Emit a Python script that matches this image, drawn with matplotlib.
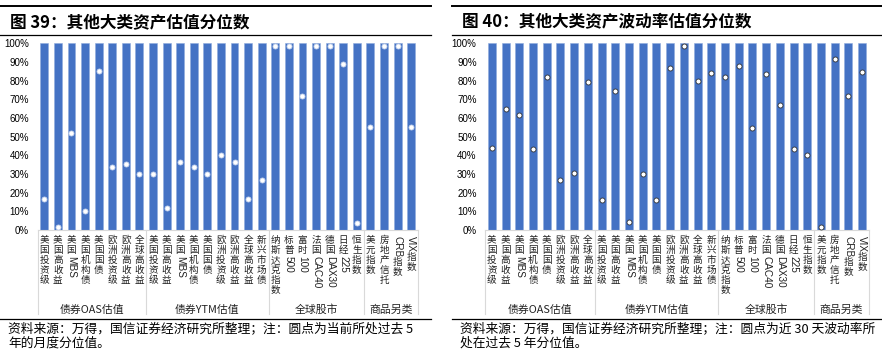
import re
import numpy as np
import matplotlib
matplotlib.use("Agg")
import matplotlib.pyplot as plt
from matplotlib.lines import Line2D
from matplotlib.transforms import offset_copy
from matplotlib.ticker import PercentFormatter

plt.rcParams['font.family'] = ['Noto Sans CJK SC', 'DejaVu Sans']

# ---- data ----
categories = ['美国投资级', '美国高收益', '美国MBS', '美国机构债', '美国国债', '欧洲投资级', '欧洲高收益', '全球高收益',
              '美国投资级', '美国高收益', '美国MBS', '美国机构债', '美国国债', '欧洲投资级', '欧洲高收益', '全球高收益', '新兴市场债',
              '纳斯达克指数', '标普500', '富时100', '法国CAC40', '德国DAX30', '日经225', '恒生指数',
              '美元指数', '房地产信托', 'CRB指数', 'VIX指数']
groups = ['债券OAS估值', '债券YTM估值', '全球股市', '商品另类']
group_sizes = [8, 9, 7, 4]

valuation_pct = [16.4, 1.8, 51.8, 10.0, 85.2, 33.6, 35.2, 30.0,
                 30.0, 11.6, 36.4, 33.6, 30.0, 40.0, 36.6, 16.6, 26.6,
                 98.8, 98.8, 71.8, 98.8, 98.8, 88.8, 3.6,
                 55.0, 98.8, 98.8, 55.0]
volatility_pct = [44.1, 65.0, 61.8, 43.2, 82.0, 27.0, 30.7, 79.3,
                  16.3, 74.3, 4.3, 30.2, 16.3, 87.0, 98.6, 79.6, 84.3,
                  82.0, 87.9, 54.8, 83.8, 66.8, 43.2, 40.0,
                  1.8, 91.6, 71.8, 84.6]

titles = ['图 39：其他大类资产估值分位数', '图 40：其他大类资产波动率估值分位数']
notes = ['资料来源：万得，国信证券经济研究所整理；注：圆点为当前所处过去 5\n年的月度分位值。',
         '资料来源：万得，国信证券经济研究所整理；注：圆点为近 30 天波动率所\n处在过去 5 年分位值。']

W, H = 882, 358
fig = plt.figure(figsize=(W / 100, H / 100), dpi=100)
renderer = fig.canvas.get_renderer()

BLUE = '#4472C4'
GRID = '#d9d9d9'


def px(x0, y0, x1, y1):
    # pixel box (top-left origin) -> figure fraction rect
    return [x0 / W, 1 - y1 / H, (x1 - x0) / W, (y1 - y0) / H]


def vlabel(ax, x, text):
    off = 4.0
    for run in re.findall(r'[A-Za-z0-9]+|.', text):
        tr = offset_copy(ax.get_xaxis_transform(), fig=fig, x=0, y=-off, units='points')
        if run.isascii():
            t = ax.text(x, 0, run, transform=tr, rotation=270, ha='center', va='top',
                        fontsize=7.2, family=['Liberation Sans'], color='#222222')
            off += t.get_window_extent(renderer).height * 72 / 100 + 1.0
        else:
            ax.text(x, 0, run, transform=tr, ha='center', va='top', fontsize=6.9, color='#222222')
            off += 7.3


def panel(x0, x1, lx0, lx1, vals, title, note, dot_edge):
    # frame lines and texts
    for y, lw in [(6, 1.4), (35, 0.9), (319, 0.9)]:
        fig.add_artist(Line2D([lx0 / W, lx1 / W], [1 - y / H, 1 - y / H],
                              transform=fig.transFigure, color='black', lw=lw))
    fig.text((lx0 + 10) / W, 1 - 22 / H, title, fontsize=12, weight='bold', va='center')
    fig.text((lx0 + 8) / W, 1 - 336 / H, note, fontsize=9.2, va='center', linespacing=1.1)

    ax = fig.add_axes(px(x0, 43.3, x1, 230))
    n = len(categories)
    xs = np.arange(n)
    ax.bar(xs, [1.0] * n, width=0.58, color=BLUE, edgecolor='#8fabdd', linewidth=0.4, zorder=2)
    ax.plot(xs, np.array(vals) / 100, 'o', ms=3.6, mfc='white', mec=dot_edge, mew=0.6, zorder=3)
    ax.set_xlim(-0.5, n - 0.5)
    ax.set_ylim(0, 1)
    ax.set_yticks(np.arange(0, 1.01, 0.1))
    ax.yaxis.set_major_formatter(PercentFormatter(1.0, decimals=0))
    ax.tick_params(axis='y', length=0, pad=6, labelsize=7)
    for lab in ax.get_yticklabels():
        lab.set_family(['Liberation Sans'])
    ax.set_xticks([])
    for s in ['top', 'right', 'left']:
        ax.spines[s].set_visible(False)
    ax.spines['bottom'].set_color(GRID)
    ax.spines['bottom'].set_linewidth(0.8)

    for i, c in enumerate(categories):
        vlabel(ax, i, c)

    ah = 230 - 43.3
    start = -0.5
    bounds = [start]
    for g, size in zip(groups, group_sizes):
        end = start + size
        ax.text((start + end) / 2, -80 / ah, g, transform=ax.get_xaxis_transform(),
                ha='center', va='center', fontsize=7.8, color='#222222')
        bounds.append(end)
        start = end
    for b in bounds:
        ax.add_line(Line2D([b, b], [0, -84 / ah], transform=ax.get_xaxis_transform(),
                           color=GRID, lw=0.8, clip_on=False))
    return ax


panel(37.5, 418, 0, 431, valuation_pct, titles[0], notes[0], '#c9d6ee')
panel(485, 869, 452, 882, volatility_pct, titles[1], notes[1], '#333333')

fig.savefig('out.png', dpi=100)
